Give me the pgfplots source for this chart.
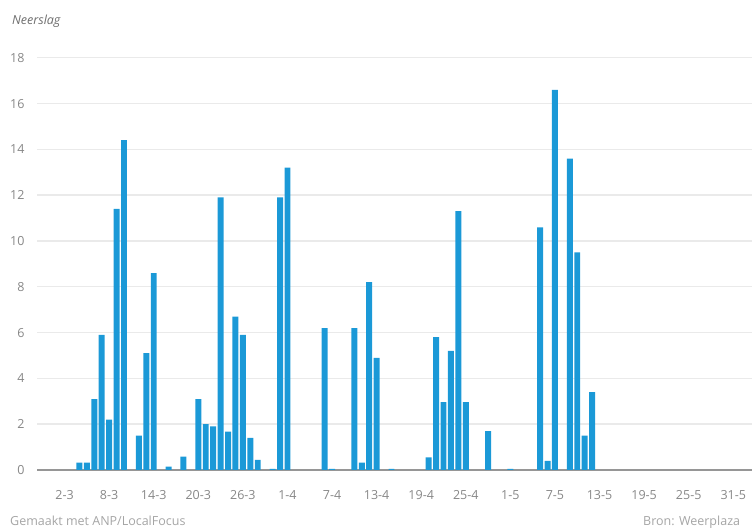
\documentclass[border=0pt]{standalone}
\usepackage{pgfplots}
\pgfplotsset{compat=1.18}
\usepackage{fontspec}
\setmainfont{Open Sans}
\definecolor{barblue}{RGB}{27,153,215}
\definecolor{ticktext}{RGB}{135,135,135}
\definecolor{foot}{RGB}{165,165,165}
\definecolor{gridc}{RGB}{234,234,234}
\definecolor{axisc}{RGB}{150,150,150}
\definecolor{lbl}{RGB}{110,110,110}
\begin{document}
\begin{tikzpicture}[x=1bp,y=1bp]
\useasboundingbox (0,0) rectangle (752,529);
\begin{axis}[
  at={(37bp,59bp)}, anchor=south west,
  scale only axis, width=715bp, height=412.2bp,
  xmin=-1.71, xmax=94.52, ymin=0, ymax=18,
  axis line style={draw=none},
  tick style={draw=none},
  ytick={2,4,...,18},
  extra y ticks={0},
  extra y tick style={ymajorgrids=true, grid style={axisc, line width=1.4bp}},
  ymajorgrids, grid style={gridc, line width=1.4bp},
  xtick={2,8,14,20,26,32,38,44,50,56,62,68,74,80,86,92},
  xticklabels={2-3,8-3,14-3,20-3,26-3,1-4,7-4,13-4,19-4,25-4,1-5,7-5,13-5,19-5,25-5,31-5},
  /pgf/number format/assume math mode=true,
  ticklabel style={font=\fontsize{12.5bp}{14bp}\selectfont, text=ticktext},
  yticklabel style={anchor=east, xshift=-9bp},
  xticklabel style={anchor=north, yshift=-13bp},
  ybar, bar width=0.8,
]
\addplot[fill=barblue, draw=none] coordinates {
(4,0.32) (5,0.32) (6,3.1) (7,5.9) (8,2.2) (9,11.4) (10,14.4)
(12,1.5) (13,5.1) (14,8.6) (16,0.15) (18,0.58)
(20,3.1) (21,2.0) (22,1.9) (23,11.9) (24,1.68) (25,6.7) (26,5.9) (27,1.4) (28,0.44)
(30,0.05) (31,11.9) (32,13.2) (37,6.2) (38,0.05)
(41,6.2) (42,0.32) (43,8.2) (44,4.9) (46,0.05)
(51,0.55) (52,5.8) (53,2.96) (54,5.2) (55,11.3) (56,2.96) (59,1.7) (62,0.05)
(66,10.6) (67,0.4) (68,16.6) (70,13.6) (71,9.5) (72,1.5) (73,3.4)
};
\end{axis}
\node[anchor=base west, inner sep=0, text=lbl, font=\fontsize{12.5bp}{14bp}\selectfont\itshape] at (12,504) {Neerslag};
\node[anchor=base west, inner sep=0, text=foot, font=\fontsize{12.5bp}{14bp}\selectfont] at (10,3) {Gemaakt met ANP/LocalFocus};
\node[anchor=base west, inner sep=0, text=foot, font=\fontsize{12.5bp}{14bp}\selectfont] at (643,3) {Bron: Weerplaza};
\end{tikzpicture}
\end{document}
